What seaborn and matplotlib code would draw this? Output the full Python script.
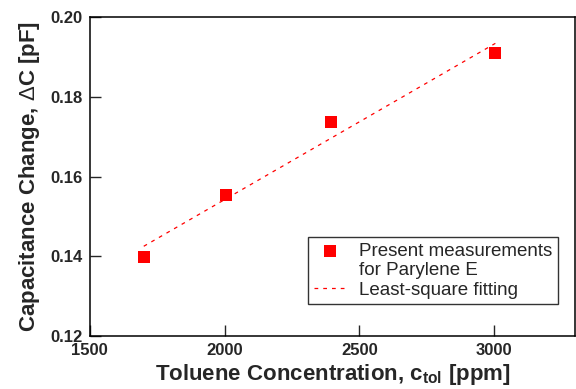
import numpy as np
import pandas as pd
import matplotlib
matplotlib.use("Agg")
import matplotlib.pyplot as plt
from matplotlib.lines import Line2D
import seaborn as sns

# values
concentration = [1700, 2005, 2395, 3005]      # ppm
cap_change = [0.1398, 0.1555, 0.1737, 0.1910]  # pF
x_ticks = [1500, 2000, 2500, 3000]
y_ticks = [0.12, 0.14, 0.16, 0.18, 0.20]

df = pd.DataFrame({'conc': concentration, 'dC': cap_change})

sns.set_style('ticks')
plt.rcParams['font.family'] = ['Liberation Sans', 'DejaVu Sans']
plt.rcParams['mathtext.fontset'] = 'custom'
plt.rcParams['mathtext.rm'] = 'Liberation Sans'
plt.rcParams['mathtext.bf'] = 'Liberation Sans:bold'

fig = plt.figure(figsize=(5.76, 3.89), dpi=100)
ax = fig.add_axes([0.156, 0.136, 0.842, 0.820])

# least-square fit line drawn by seaborn from the data
sns.regplot(data=df, x='conc', y='dC', ax=ax, scatter=False, ci=None, truncate=True,
            line_kws=dict(color='red', lw=0.9, ls=(0, (3, 4))),
            label='Least-square fitting')
sns.scatterplot(data=df, x='conc', y='dC', ax=ax, marker='s', s=80, color='red',
                linewidth=0, label='Present measurements', zorder=3)

ax.set_xlim(1500, 3300)
ax.set_ylim(0.12, 0.20)
ax.set_xticks(x_ticks)
ax.set_yticks(y_ticks)
ax.set_yticklabels([f'{v:.2f}' for v in y_ticks])
ax.tick_params(direction='in', length=8, width=1, labelsize=12, pad=5)
for lab in ax.get_xticklabels() + ax.get_yticklabels():
    lab.set_fontweight('bold')
for sp in ax.spines.values():
    sp.set_visible(True)
    sp.set_linewidth(1.1)
    sp.set_color('black')

ax.set_xlabel(r'Toluene Concentration, c$_{\mathbf{tol}}$ [ppm]', fontsize=16,
              fontweight='bold', labelpad=3)
ax.set_ylabel(r'Capacitance Change, $\Delta$C [pF]', fontsize=16, fontweight='bold', labelpad=6)

# legend: marker sits beside the first line of the two-line label
handles, labels = ax.get_legend_handles_labels()
h_meas = handles[labels.index('Present measurements')]
h_fit = handles[labels.index('Least-square fitting')]
blank = Line2D([], [], linestyle='none', marker=None)
leg = ax.legend([h_meas, blank, h_fit],
                ['Present measurements', 'for Parylene E', 'Least-square fitting'],
                loc='lower right', bbox_to_anchor=(0.965, 0.10), fontsize=13.5,
                frameon=True, fancybox=False, edgecolor='black', shadow=False,
                handlelength=1.7, handletextpad=0.7, borderpad=0.3,
                labelspacing=0.12, borderaxespad=0)
leg.get_frame().set_linewidth(1.0)

fig.savefig('out.png', dpi=100)
